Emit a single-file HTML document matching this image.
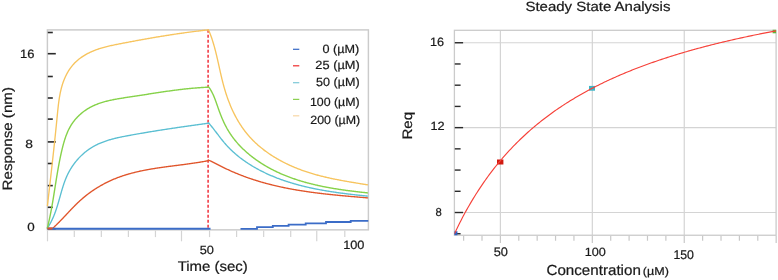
<!DOCTYPE html>
<html><head><meta charset="utf-8"><style>
html,body{margin:0;padding:0;background:#fff;width:778px;height:280px;overflow:hidden}
svg{display:block;will-change:transform;font-family:"Liberation Sans",sans-serif}
text{text-rendering:geometricPrecision}
</style></head><body>
<svg width="778" height="280" viewBox="0 0 778 280">
<rect x="47.4" y="29.9" width="321" height="199.95" fill="none" stroke="#cbcbcb" stroke-width="1.45"/>
<line x1="47.8" y1="228.70" x2="55.80" y2="228.70" stroke="#2a2a2a" stroke-width="1.6"/>
<line x1="47.8" y1="207.30" x2="52.80" y2="207.30" stroke="#2a2a2a" stroke-width="1.6"/>
<line x1="47.8" y1="185.60" x2="52.80" y2="185.60" stroke="#2a2a2a" stroke-width="1.6"/>
<line x1="47.8" y1="163.50" x2="52.80" y2="163.50" stroke="#2a2a2a" stroke-width="1.6"/>
<line x1="47.8" y1="141.90" x2="55.80" y2="141.90" stroke="#2a2a2a" stroke-width="1.6"/>
<line x1="47.8" y1="119.10" x2="52.80" y2="119.10" stroke="#2a2a2a" stroke-width="1.6"/>
<line x1="47.8" y1="98.00" x2="52.80" y2="98.00" stroke="#2a2a2a" stroke-width="1.6"/>
<line x1="47.8" y1="76.50" x2="52.80" y2="76.50" stroke="#2a2a2a" stroke-width="1.6"/>
<line x1="47.8" y1="53.70" x2="55.80" y2="53.70" stroke="#2a2a2a" stroke-width="1.6"/>
<line x1="47.8" y1="32.50" x2="52.80" y2="32.50" stroke="#2a2a2a" stroke-width="1.6"/>
<line x1="47.5" y1="230.5" x2="47.5" y2="241.3" stroke="#d4d4d4" stroke-width="1.2"/>
<line x1="74.30" y1="230.5" x2="74.30" y2="237.1" stroke="#d4d4d4" stroke-width="1.2"/>
<line x1="101.35" y1="230.5" x2="101.35" y2="237.1" stroke="#d4d4d4" stroke-width="1.2"/>
<line x1="128.40" y1="230.5" x2="128.40" y2="237.1" stroke="#d4d4d4" stroke-width="1.2"/>
<line x1="155.45" y1="230.5" x2="155.45" y2="237.1" stroke="#d4d4d4" stroke-width="1.2"/>
<line x1="181.50" y1="230.5" x2="181.50" y2="241.3" stroke="#d4d4d4" stroke-width="1.2"/>
<line x1="209.55" y1="230.5" x2="209.55" y2="237.1" stroke="#d4d4d4" stroke-width="1.2"/>
<line x1="236.60" y1="230.5" x2="236.60" y2="237.1" stroke="#d4d4d4" stroke-width="1.2"/>
<line x1="263.65" y1="230.5" x2="263.65" y2="237.1" stroke="#d4d4d4" stroke-width="1.2"/>
<line x1="290.70" y1="230.5" x2="290.70" y2="237.1" stroke="#d4d4d4" stroke-width="1.2"/>
<line x1="316.75" y1="230.5" x2="316.75" y2="241.3" stroke="#d4d4d4" stroke-width="1.2"/>
<line x1="344.80" y1="230.5" x2="344.80" y2="237.1" stroke="#d4d4d4" stroke-width="1.2"/>
<line x1="208.1" y1="29.6" x2="208.1" y2="229.5" stroke="#f0303a" stroke-width="1.5" stroke-dasharray="3 2" stroke-dashoffset="-0.2"/>
<path d="M47.50,228.40 L52.48,228.44 L52.92,228.05 L53.35,227.66 L53.78,227.27 L54.21,226.88 L54.63,226.48 L55.06,226.08 L55.48,225.68 L55.91,225.28 L56.33,224.87 L56.75,224.46 L57.16,224.05 L57.58,223.64 L58.00,223.23 L58.41,222.82 L58.83,222.40 L59.24,221.98 L59.65,221.57 L60.06,221.15 L60.47,220.73 L60.88,220.30 L61.29,219.88 L61.70,219.46 L62.11,219.03 L62.51,218.60 L62.92,218.18 L63.33,217.75 L63.73,217.32 L64.14,216.89 L64.54,216.46 L64.95,216.03 L65.35,215.60 L65.76,215.17 L66.16,214.74 L66.57,214.31 L66.97,213.88 L67.37,213.45 L67.78,213.02 L68.18,212.58 L68.59,212.15 L69.00,211.72 L69.40,211.29 L69.81,210.86 L70.22,210.43 L70.62,210.00 L71.03,209.58 L71.44,209.15 L71.85,208.72 L72.26,208.30 L72.67,207.87 L73.08,207.45 L73.50,207.02 L73.91,206.60 L74.32,206.18 L74.74,205.76 L75.16,205.34 L75.58,204.93 L76.00,204.51 L76.42,204.10 L76.84,203.68 L77.26,203.27 L77.69,202.86 L78.11,202.46 L78.54,202.05 L78.97,201.65 L79.40,201.25 L79.84,200.85 L80.27,200.45 L80.71,200.06 L81.15,199.67 L81.59,199.28 L82.03,198.89 L82.48,198.50 L82.92,198.12 L83.37,197.74 L83.82,197.36 L84.28,196.99 L84.73,196.62 L85.19,196.25 L85.64,195.88 L86.10,195.51 L86.56,195.15 L87.03,194.79 L87.49,194.43 L87.96,194.07 L88.43,193.72 L88.90,193.37 L89.37,193.02 L89.84,192.67 L90.32,192.33 L90.79,191.99 L91.27,191.65 L91.75,191.31 L92.24,190.98 L92.72,190.65 L93.20,190.32 L93.69,189.99 L94.18,189.67 L94.67,189.35 L95.16,189.03 L95.65,188.71 L96.15,188.40 L96.64,188.09 L97.14,187.78 L97.64,187.47 L98.14,187.17 L98.64,186.86 L99.15,186.57 L99.65,186.27 L100.16,185.97 L100.67,185.68 L101.18,185.39 L101.69,185.11 L102.20,184.82 L102.71,184.54 L103.23,184.26 L103.74,183.99 L104.26,183.71 L104.78,183.44 L105.30,183.17 L105.82,182.90 L106.34,182.64 L106.87,182.38 L107.39,182.12 L107.92,181.86 L108.44,181.61 L108.97,181.36 L109.50,181.11 L110.03,180.86 L110.57,180.62 L111.10,180.38 L111.63,180.14 L112.17,179.91 L112.71,179.67 L113.24,179.44 L113.78,179.22 L114.32,178.99 L114.86,178.77 L115.41,178.55 L115.95,178.33 L116.49,178.11 L117.04,177.90 L117.59,177.69 L118.13,177.49 L118.68,177.28 L119.23,177.08 L119.78,176.88 L120.33,176.68 L120.88,176.49 L121.44,176.30 L121.99,176.11 L122.54,175.92 L123.10,175.73 L123.66,175.55 L124.21,175.37 L124.77,175.19 L125.33,175.02 L125.89,174.84 L126.45,174.67 L127.01,174.50 L127.57,174.34 L128.14,174.17 L128.70,174.01 L129.27,173.85 L129.83,173.69 L130.40,173.53 L130.96,173.38 L131.53,173.22 L132.10,173.07 L132.67,172.93 L133.24,172.78 L133.81,172.63 L134.38,172.49 L134.95,172.35 L135.52,172.21 L136.09,172.07 L136.67,171.94 L137.24,171.80 L137.82,171.67 L138.39,171.54 L138.97,171.41 L139.54,171.28 L140.12,171.16 L140.70,171.03 L141.27,170.91 L141.85,170.79 L142.43,170.67 L143.01,170.55 L143.59,170.43 L144.17,170.32 L144.75,170.21 L145.33,170.09 L145.91,169.98 L146.50,169.87 L147.08,169.76 L147.66,169.66 L148.24,169.55 L148.83,169.45 L149.41,169.34 L149.99,169.24 L150.58,169.14 L151.16,169.04 L151.75,168.94 L152.33,168.84 L152.92,168.75 L153.51,168.65 L154.09,168.56 L154.68,168.46 L155.26,168.37 L155.85,168.28 L156.44,168.19 L157.03,168.10 L157.61,168.01 L158.20,167.92 L158.79,167.83 L159.38,167.75 L159.97,167.66 L160.55,167.57 L161.14,167.49 L161.73,167.41 L162.32,167.32 L162.91,167.24 L163.50,167.16 L164.08,167.08 L164.67,167.00 L165.26,166.92 L165.85,166.84 L166.44,166.76 L167.03,166.68 L167.62,166.60 L168.21,166.52 L168.80,166.44 L169.39,166.37 L169.97,166.29 L170.56,166.21 L171.15,166.14 L171.74,166.06 L172.33,165.99 L172.92,165.91 L173.51,165.83 L174.09,165.76 L174.68,165.68 L175.27,165.61 L175.86,165.53 L176.44,165.46 L177.03,165.38 L177.62,165.31 L178.21,165.23 L178.79,165.16 L179.38,165.08 L179.96,165.01 L180.55,164.93 L181.14,164.86 L181.72,164.78 L182.31,164.71 L182.89,164.63 L183.48,164.56 L184.06,164.48 L184.64,164.40 L185.23,164.33 L185.81,164.25 L186.39,164.17 L186.98,164.09 L187.56,164.01 L188.14,163.93 L188.72,163.85 L189.30,163.77 L189.88,163.69 L190.46,163.61 L191.04,163.53 L191.62,163.45 L192.20,163.37 L192.78,163.28 L193.35,163.20 L193.93,163.11 L194.51,163.03 L195.08,162.94 L195.66,162.85 L196.23,162.77 L196.81,162.68 L197.38,162.59 L197.95,162.50 L198.52,162.41 L199.10,162.31 L199.67,162.22 L200.24,162.13 L200.81,162.03 L201.37,161.94 L201.94,161.84 L202.51,161.74 L203.08,161.64 L203.64,161.54 L204.21,161.44 L204.77,161.34 L205.34,161.23 L205.90,161.13 L206.46,161.02 L207.02,160.91 L207.59,160.80 L208.15,160.69 L208.38,160.05 L208.88,160.28 L209.38,160.51 L209.87,160.74 L210.37,160.98 L210.86,161.21 L211.36,161.45 L211.85,161.69 L212.34,161.93 L212.84,162.17 L213.33,162.41 L213.82,162.66 L214.31,162.90 L214.81,163.15 L215.30,163.39 L215.79,163.64 L216.28,163.89 L216.77,164.14 L217.26,164.39 L217.75,164.64 L218.24,164.88 L218.74,165.13 L219.23,165.38 L219.72,165.63 L220.21,165.88 L220.70,166.12 L221.20,166.37 L221.69,166.62 L222.18,166.86 L222.68,167.11 L223.17,167.35 L223.67,167.60 L224.16,167.84 L224.66,168.08 L225.15,168.32 L225.65,168.56 L226.15,168.79 L226.65,169.03 L227.15,169.26 L227.65,169.50 L228.15,169.73 L228.65,169.96 L229.15,170.19 L229.65,170.42 L230.15,170.65 L230.66,170.87 L231.16,171.10 L231.67,171.32 L232.17,171.54 L232.68,171.77 L233.18,171.99 L233.69,172.20 L234.20,172.42 L234.71,172.64 L235.21,172.85 L235.72,173.07 L236.23,173.28 L236.74,173.49 L237.25,173.70 L237.77,173.91 L238.28,174.12 L238.79,174.32 L239.30,174.53 L239.82,174.73 L240.33,174.94 L240.85,175.14 L241.36,175.34 L241.88,175.54 L242.39,175.73 L242.91,175.93 L243.43,176.12 L243.95,176.32 L244.46,176.51 L244.98,176.70 L245.50,176.89 L246.02,177.08 L246.54,177.27 L247.06,177.46 L247.59,177.64 L248.11,177.82 L248.63,178.01 L249.15,178.19 L249.68,178.37 L250.20,178.55 L250.73,178.73 L251.25,178.90 L251.78,179.08 L252.30,179.25 L252.83,179.43 L253.36,179.60 L253.88,179.77 L254.41,179.94 L254.94,180.11 L255.47,180.27 L256.00,180.44 L256.53,180.61 L257.05,180.77 L257.58,180.93 L258.12,181.09 L258.65,181.25 L259.18,181.41 L259.71,181.57 L260.24,181.73 L260.77,181.89 L261.31,182.04 L261.84,182.19 L262.37,182.35 L262.91,182.50 L263.44,182.65 L263.97,182.80 L264.51,182.95 L265.04,183.09 L265.58,183.24 L266.12,183.39 L266.65,183.53 L267.19,183.67 L267.72,183.82 L268.26,183.96 L268.80,184.10 L269.34,184.24 L269.87,184.37 L270.41,184.51 L270.95,184.65 L271.49,184.78 L272.03,184.91 L272.57,185.05 L273.10,185.18 L273.64,185.31 L274.18,185.44 L274.72,185.57 L275.26,185.70 L275.80,185.82 L276.34,185.95 L276.89,186.07 L277.43,186.20 L277.97,186.32 L278.51,186.44 L279.05,186.56 L279.59,186.68 L280.13,186.80 L280.67,186.92 L281.22,187.04 L281.76,187.15 L282.30,187.27 L282.84,187.38 L283.39,187.50 L283.93,187.61 L284.47,187.72 L285.02,187.83 L285.56,187.94 L286.10,188.05 L286.65,188.16 L287.19,188.27 L287.73,188.37 L288.28,188.48 L288.82,188.59 L289.37,188.69 L289.91,188.79 L290.45,188.89 L291.00,189.00 L291.54,189.10 L292.09,189.20 L292.63,189.30 L293.18,189.39 L293.72,189.49 L294.27,189.59 L294.81,189.68 L295.36,189.78 L295.90,189.87 L296.45,189.97 L297.00,190.06 L297.54,190.15 L298.09,190.24 L298.63,190.33 L299.18,190.42 L299.73,190.51 L300.27,190.60 L300.82,190.69 L301.37,190.77 L301.91,190.86 L302.46,190.95 L303.01,191.03 L303.56,191.11 L304.10,191.20 L304.65,191.28 L305.20,191.36 L305.75,191.44 L306.29,191.52 L306.84,191.60 L307.39,191.68 L307.94,191.76 L308.48,191.84 L309.03,191.92 L309.58,192.00 L310.13,192.07 L310.68,192.15 L311.23,192.22 L311.78,192.30 L312.32,192.37 L312.87,192.44 L313.42,192.52 L313.97,192.59 L314.52,192.66 L315.07,192.73 L315.62,192.80 L316.17,192.87 L316.72,192.94 L317.27,193.01 L317.82,193.08 L318.36,193.15 L318.91,193.21 L319.46,193.28 L320.01,193.35 L320.56,193.41 L321.11,193.48 L321.66,193.54 L322.21,193.61 L322.76,193.67 L323.31,193.74 L323.86,193.80 L324.41,193.86 L324.97,193.92 L325.52,193.99 L326.07,194.05 L326.62,194.11 L327.17,194.17 L327.72,194.23 L328.27,194.29 L328.82,194.35 L329.37,194.41 L329.92,194.46 L330.47,194.52 L331.02,194.58 L331.57,194.64 L332.13,194.69 L332.68,194.75 L333.23,194.81 L333.78,194.86 L334.33,194.92 L334.88,194.97 L335.43,195.03 L335.99,195.08 L336.54,195.14 L337.09,195.19 L337.64,195.25 L338.19,195.30 L338.74,195.35 L339.30,195.41 L339.85,195.46 L340.40,195.51 L340.95,195.56 L341.50,195.61 L342.05,195.67 L342.61,195.72 L343.16,195.77 L343.71,195.82 L344.26,195.87 L344.81,195.92 L345.37,195.97 L345.92,196.02 L346.47,196.07 L347.02,196.12 L347.57,196.17 L348.13,196.22 L348.68,196.27 L349.23,196.31 L349.78,196.36 L350.34,196.41 L350.89,196.46 L351.44,196.51 L351.99,196.56 L352.54,196.60 L353.10,196.65 L353.65,196.70 L354.20,196.75 L354.75,196.79 L355.31,196.84 L355.86,196.89 L356.41,196.94 L356.96,196.98 L357.52,197.03 L358.07,197.08 L358.62,197.12 L359.17,197.17 L359.72,197.22 L360.28,197.26 L360.83,197.31 L361.38,197.36 L361.93,197.40 L362.49,197.45 L363.04,197.50 L363.59,197.54 L364.14,197.59 L364.70,197.64 L365.25,197.68 L365.80,197.73 L366.35,197.78 L366.91,197.82 L367.46,197.87 L368.01,197.92" fill="none" stroke="#e0552b" stroke-width="1.35" stroke-linejoin="round"/>
<path d="M47.13,228.48 L47.53,227.88 L47.92,227.27 L48.31,226.66 L48.69,226.05 L49.06,225.44 L49.42,224.82 L49.78,224.21 L50.13,223.58 L50.47,222.96 L50.80,222.33 L51.13,221.70 L51.45,221.06 L51.77,220.42 L52.08,219.78 L52.38,219.14 L52.68,218.49 L52.97,217.85 L53.25,217.20 L53.53,216.54 L53.80,215.89 L54.07,215.23 L54.34,214.57 L54.60,213.90 L54.85,213.24 L55.10,212.57 L55.35,211.90 L55.59,211.23 L55.83,210.56 L56.06,209.88 L56.29,209.20 L56.51,208.52 L56.74,207.84 L56.96,207.16 L57.17,206.48 L57.39,205.79 L57.60,205.10 L57.81,204.41 L58.01,203.72 L58.22,203.03 L58.42,202.34 L58.62,201.64 L58.82,200.95 L59.02,200.25 L59.21,199.55 L59.41,198.86 L59.61,198.16 L59.80,197.46 L60.00,196.76 L60.19,196.06 L60.39,195.36 L60.58,194.67 L60.78,193.97 L60.97,193.27 L61.17,192.57 L61.37,191.87 L61.57,191.18 L61.78,190.48 L61.98,189.79 L62.19,189.09 L62.40,188.40 L62.61,187.71 L62.83,187.02 L63.04,186.33 L63.26,185.64 L63.49,184.95 L63.72,184.27 L63.95,183.59 L64.19,182.90 L64.43,182.23 L64.67,181.55 L64.92,180.88 L65.18,180.20 L65.44,179.54 L65.70,178.87 L65.98,178.20 L66.25,177.54 L66.54,176.89 L66.82,176.23 L67.12,175.58 L67.42,174.93 L67.73,174.29 L68.05,173.64 L68.37,173.01 L68.70,172.37 L69.04,171.74 L69.38,171.11 L69.73,170.49 L70.09,169.87 L70.45,169.26 L70.82,168.65 L71.20,168.04 L71.58,167.44 L71.97,166.84 L72.36,166.24 L72.77,165.65 L73.17,165.07 L73.59,164.49 L74.01,163.91 L74.43,163.34 L74.87,162.77 L75.30,162.21 L75.75,161.66 L76.20,161.10 L76.65,160.56 L77.11,160.02 L77.58,159.48 L78.05,158.95 L78.53,158.42 L79.02,157.90 L79.50,157.39 L80.00,156.88 L80.50,156.37 L81.01,155.87 L81.52,155.38 L82.03,154.90 L82.55,154.42 L83.08,153.94 L83.61,153.47 L84.15,153.01 L84.69,152.55 L85.24,152.10 L85.79,151.66 L86.35,151.22 L86.91,150.79 L87.48,150.37 L88.05,149.95 L88.62,149.54 L89.20,149.13 L89.79,148.74 L90.38,148.34 L90.97,147.96 L91.57,147.58 L92.18,147.21 L92.78,146.85 L93.39,146.50 L94.01,146.15 L94.63,145.81 L95.26,145.48 L95.88,145.15 L96.52,144.83 L97.15,144.52 L97.79,144.21 L98.44,143.92 L99.08,143.63 L99.74,143.34 L100.39,143.06 L101.05,142.79 L101.71,142.52 L102.37,142.26 L103.04,142.01 L103.71,141.76 L104.38,141.52 L105.06,141.28 L105.74,141.05 L106.42,140.82 L107.10,140.60 L107.79,140.38 L108.48,140.17 L109.17,139.96 L109.86,139.76 L110.55,139.56 L111.25,139.36 L111.95,139.17 L112.65,138.98 L113.35,138.80 L114.05,138.62 L114.76,138.45 L115.47,138.27 L116.17,138.10 L116.88,137.94 L117.59,137.78 L118.30,137.62 L119.02,137.46 L119.73,137.31 L120.44,137.15 L121.16,137.00 L121.87,136.86 L122.59,136.71 L123.30,136.57 L124.02,136.43 L124.73,136.29 L125.45,136.15 L126.17,136.01 L126.88,135.88 L127.60,135.74 L128.31,135.61 L129.03,135.48 L129.74,135.35 L130.46,135.22 L131.17,135.09 L131.89,134.96 L132.60,134.83 L133.31,134.70 L134.02,134.57 L134.73,134.45 L135.44,134.32 L136.15,134.19 L136.86,134.07 L137.57,133.94 L138.28,133.82 L138.99,133.70 L139.70,133.57 L140.40,133.45 L141.11,133.33 L141.82,133.21 L142.52,133.09 L143.23,132.97 L143.94,132.85 L144.64,132.73 L145.35,132.61 L146.05,132.49 L146.76,132.37 L147.46,132.25 L148.16,132.13 L148.87,132.02 L149.57,131.90 L150.27,131.79 L150.98,131.67 L151.68,131.55 L152.38,131.44 L153.08,131.33 L153.78,131.21 L154.49,131.10 L155.19,130.99 L155.89,130.87 L156.59,130.76 L157.29,130.65 L157.99,130.54 L158.70,130.43 L159.40,130.31 L160.10,130.20 L160.80,130.09 L161.50,129.98 L162.20,129.87 L162.90,129.77 L163.60,129.66 L164.30,129.55 L165.00,129.44 L165.71,129.33 L166.41,129.23 L167.11,129.12 L167.81,129.01 L168.51,128.90 L169.21,128.80 L169.91,128.69 L170.61,128.59 L171.32,128.48 L172.02,128.38 L172.72,128.27 L173.42,128.17 L174.13,128.06 L174.83,127.96 L175.53,127.85 L176.24,127.75 L176.94,127.64 L177.64,127.54 L178.35,127.44 L179.05,127.34 L179.76,127.23 L180.46,127.13 L181.17,127.03 L181.87,126.92 L182.58,126.82 L183.28,126.72 L183.99,126.62 L184.70,126.52 L185.41,126.42 L186.11,126.31 L186.82,126.21 L187.53,126.11 L188.24,126.01 L188.95,125.91 L189.66,125.81 L190.37,125.71 L191.08,125.61 L191.79,125.51 L192.51,125.41 L193.22,125.31 L193.93,125.21 L194.65,125.11 L195.36,125.01 L196.07,124.91 L196.79,124.81 L197.51,124.71 L198.22,124.61 L198.94,124.51 L199.66,124.41 L200.38,124.31 L201.10,124.21 L201.82,124.11 L202.54,124.01 L203.26,123.91 L203.98,123.81 L204.71,123.71 L205.43,123.61 L206.15,123.51 L206.88,123.41 L207.61,123.31 L208.33,123.21 L208.54,122.82 L208.94,123.27 L209.33,123.73 L209.72,124.19 L210.11,124.65 L210.49,125.11 L210.88,125.57 L211.26,126.04 L211.64,126.51 L212.02,126.98 L212.40,127.46 L212.77,127.93 L213.15,128.41 L213.52,128.89 L213.89,129.37 L214.27,129.85 L214.64,130.33 L215.01,130.81 L215.38,131.30 L215.75,131.78 L216.12,132.27 L216.49,132.75 L216.86,133.24 L217.23,133.72 L217.60,134.21 L217.97,134.70 L218.34,135.18 L218.71,135.67 L219.08,136.16 L219.46,136.64 L219.83,137.13 L220.20,137.61 L220.58,138.09 L220.96,138.58 L221.34,139.06 L221.72,139.54 L222.10,140.01 L222.48,140.49 L222.87,140.97 L223.26,141.44 L223.65,141.91 L224.04,142.38 L224.43,142.85 L224.83,143.31 L225.23,143.78 L225.63,144.23 L226.04,144.69 L226.45,145.15 L226.86,145.60 L227.27,146.05 L227.69,146.49 L228.11,146.94 L228.53,147.38 L228.96,147.82 L229.38,148.25 L229.81,148.68 L230.25,149.12 L230.68,149.54 L231.12,149.97 L231.56,150.39 L232.00,150.81 L232.45,151.23 L232.90,151.64 L233.35,152.05 L233.80,152.46 L234.26,152.87 L234.71,153.27 L235.17,153.67 L235.64,154.07 L236.10,154.47 L236.57,154.86 L237.04,155.25 L237.51,155.64 L237.98,156.02 L238.46,156.41 L238.94,156.79 L239.41,157.17 L239.90,157.54 L240.38,157.92 L240.87,158.29 L241.35,158.65 L241.84,159.02 L242.33,159.38 L242.83,159.74 L243.32,160.10 L243.82,160.46 L244.32,160.81 L244.82,161.16 L245.32,161.51 L245.82,161.85 L246.33,162.20 L246.83,162.54 L247.34,162.88 L247.85,163.21 L248.36,163.55 L248.88,163.88 L249.39,164.21 L249.91,164.54 L250.42,164.86 L250.94,165.18 L251.46,165.50 L251.98,165.82 L252.51,166.13 L253.03,166.45 L253.55,166.76 L254.08,167.06 L254.61,167.37 L255.14,167.67 L255.67,167.97 L256.20,168.27 L256.73,168.57 L257.26,168.86 L257.80,169.16 L258.33,169.45 L258.87,169.73 L259.40,170.02 L259.94,170.30 L260.48,170.58 L261.02,170.86 L261.56,171.14 L262.11,171.41 L262.65,171.68 L263.20,171.95 L263.74,172.22 L264.29,172.49 L264.84,172.75 L265.38,173.01 L265.93,173.27 L266.48,173.53 L267.04,173.79 L267.59,174.04 L268.14,174.29 L268.70,174.54 L269.25,174.79 L269.81,175.03 L270.37,175.28 L270.92,175.52 L271.48,175.76 L272.04,175.99 L272.60,176.23 L273.17,176.46 L273.73,176.70 L274.29,176.93 L274.86,177.15 L275.42,177.38 L275.99,177.60 L276.55,177.82 L277.12,178.05 L277.69,178.26 L278.26,178.48 L278.83,178.69 L279.40,178.91 L279.97,179.12 L280.54,179.33 L281.12,179.54 L281.69,179.74 L282.26,179.94 L282.84,180.15 L283.41,180.35 L283.99,180.55 L284.57,180.74 L285.15,180.94 L285.73,181.13 L286.31,181.32 L286.89,181.51 L287.47,181.70 L288.05,181.89 L288.63,182.07 L289.21,182.26 L289.80,182.44 L290.38,182.62 L290.96,182.80 L291.55,182.97 L292.13,183.15 L292.72,183.32 L293.31,183.50 L293.90,183.67 L294.48,183.83 L295.07,184.00 L295.66,184.17 L296.25,184.33 L296.84,184.50 L297.43,184.66 L298.02,184.82 L298.62,184.98 L299.21,185.13 L299.80,185.29 L300.39,185.44 L300.99,185.60 L301.58,185.75 L302.18,185.90 L302.77,186.05 L303.37,186.19 L303.96,186.34 L304.56,186.48 L305.16,186.63 L305.75,186.77 L306.35,186.91 L306.95,187.05 L307.55,187.18 L308.14,187.32 L308.74,187.46 L309.34,187.59 L309.94,187.72 L310.54,187.85 L311.14,187.98 L311.74,188.11 L312.35,188.24 L312.95,188.37 L313.55,188.49 L314.15,188.62 L314.75,188.74 L315.35,188.86 L315.96,188.98 L316.56,189.10 L317.16,189.22 L317.77,189.34 L318.37,189.45 L318.97,189.57 L319.58,189.68 L320.18,189.79 L320.79,189.90 L321.39,190.01 L322.00,190.12 L322.60,190.23 L323.21,190.34 L323.81,190.45 L324.42,190.55 L325.02,190.66 L325.63,190.76 L326.24,190.86 L326.84,190.96 L327.45,191.06 L328.05,191.16 L328.66,191.26 L329.27,191.36 L329.87,191.45 L330.48,191.55 L331.09,191.65 L331.69,191.74 L332.30,191.83 L332.91,191.92 L333.51,192.02 L334.12,192.11 L334.73,192.20 L335.33,192.28 L335.94,192.37 L336.55,192.46 L337.15,192.55 L337.76,192.63 L338.37,192.72 L338.97,192.80 L339.58,192.88 L340.18,192.97 L340.79,193.05 L341.40,193.13 L342.00,193.21 L342.61,193.29 L343.22,193.37 L343.82,193.45 L344.43,193.53 L345.03,193.60 L345.64,193.68 L346.24,193.76 L346.85,193.83 L347.45,193.91 L348.06,193.98 L348.66,194.05 L349.27,194.13 L349.87,194.20 L350.47,194.27 L351.08,194.34 L351.68,194.41 L352.28,194.48 L352.89,194.55 L353.49,194.62 L354.09,194.69 L354.69,194.76 L355.29,194.83 L355.90,194.89 L356.50,194.96 L357.10,195.03 L357.70,195.09 L358.30,195.16 L358.90,195.22 L359.50,195.29 L360.10,195.35 L360.70,195.42 L361.29,195.48 L361.89,195.54 L362.49,195.61 L363.09,195.67 L363.69,195.73 L364.28,195.79 L364.88,195.86 L365.47,195.92 L366.07,195.98 L366.66,196.04 L367.26,196.10 L367.85,196.16" fill="none" stroke="#5bbfd2" stroke-width="1.35" stroke-linejoin="round"/>
<path d="M47.17,228.66 L47.38,227.83 L47.59,227.00 L47.80,226.17 L48.00,225.34 L48.20,224.51 L48.39,223.68 L48.58,222.85 L48.77,222.02 L48.96,221.19 L49.15,220.36 L49.33,219.53 L49.51,218.70 L49.68,217.86 L49.86,217.03 L50.03,216.20 L50.20,215.37 L50.37,214.54 L50.53,213.71 L50.70,212.88 L50.86,212.05 L51.02,211.21 L51.18,210.38 L51.33,209.55 L51.49,208.72 L51.64,207.89 L51.79,207.05 L51.94,206.22 L52.08,205.39 L52.23,204.56 L52.38,203.72 L52.52,202.89 L52.66,202.06 L52.80,201.23 L52.94,200.39 L53.08,199.56 L53.22,198.73 L53.36,197.90 L53.49,197.06 L53.63,196.23 L53.76,195.40 L53.90,194.56 L54.03,193.73 L54.16,192.90 L54.30,192.06 L54.43,191.23 L54.56,190.40 L54.69,189.56 L54.82,188.73 L54.96,187.90 L55.09,187.06 L55.22,186.23 L55.35,185.39 L55.48,184.56 L55.61,183.73 L55.75,182.89 L55.88,182.06 L56.01,181.22 L56.15,180.39 L56.28,179.55 L56.41,178.72 L56.55,177.89 L56.69,177.05 L56.82,176.22 L56.96,175.38 L57.10,174.55 L57.24,173.71 L57.38,172.88 L57.52,172.04 L57.67,171.21 L57.81,170.37 L57.96,169.54 L58.10,168.70 L58.25,167.87 L58.40,167.03 L58.56,166.20 L58.71,165.36 L58.87,164.53 L59.02,163.69 L59.18,162.86 L59.34,162.02 L59.51,161.19 L59.67,160.35 L59.84,159.52 L60.01,158.68 L60.18,157.85 L60.36,157.01 L60.53,156.17 L60.71,155.34 L60.89,154.50 L61.08,153.67 L61.27,152.83 L61.46,152.00 L61.65,151.16 L61.84,150.32 L62.04,149.49 L62.24,148.65 L62.45,147.82 L62.66,146.98 L62.87,146.15 L63.09,145.32 L63.31,144.49 L63.54,143.66 L63.77,142.83 L64.01,142.00 L64.25,141.18 L64.50,140.36 L64.76,139.54 L65.02,138.73 L65.29,137.92 L65.57,137.11 L65.85,136.31 L66.15,135.51 L66.45,134.71 L66.76,133.93 L67.08,133.14 L67.41,132.36 L67.75,131.59 L68.09,130.82 L68.45,130.06 L68.82,129.30 L69.20,128.56 L69.59,127.81 L69.99,127.08 L70.40,126.35 L70.83,125.63 L71.27,124.92 L71.72,124.22 L72.18,123.52 L72.65,122.84 L73.14,122.16 L73.64,121.49 L74.15,120.83 L74.67,120.18 L75.20,119.53 L75.74,118.90 L76.30,118.28 L76.86,117.66 L77.43,117.05 L78.02,116.46 L78.61,115.87 L79.22,115.29 L79.83,114.73 L80.45,114.17 L81.08,113.62 L81.72,113.08 L82.37,112.56 L83.03,112.04 L83.69,111.53 L84.36,111.04 L85.04,110.55 L85.73,110.08 L86.43,109.61 L87.13,109.16 L87.84,108.72 L88.55,108.29 L89.27,107.87 L90.00,107.46 L90.74,107.07 L91.48,106.68 L92.22,106.31 L92.97,105.95 L93.73,105.60 L94.49,105.26 L95.26,104.93 L96.03,104.60 L96.81,104.29 L97.59,103.99 L98.38,103.70 L99.17,103.41 L99.96,103.14 L100.76,102.87 L101.56,102.61 L102.37,102.36 L103.18,102.12 L103.99,101.88 L104.81,101.65 L105.63,101.43 L106.45,101.22 L107.28,101.01 L108.11,100.81 L108.94,100.61 L109.78,100.42 L110.61,100.24 L111.45,100.06 L112.29,99.88 L113.13,99.71 L113.98,99.54 L114.83,99.38 L115.67,99.23 L116.52,99.07 L117.37,98.92 L118.22,98.77 L119.08,98.63 L119.93,98.49 L120.78,98.35 L121.64,98.21 L122.49,98.08 L123.34,97.95 L124.20,97.81 L125.05,97.68 L125.91,97.56 L126.76,97.43 L127.61,97.30 L128.47,97.17 L129.32,97.05 L130.17,96.92 L131.02,96.79 L131.87,96.66 L132.71,96.53 L133.56,96.40 L134.41,96.28 L135.25,96.15 L136.09,96.02 L136.94,95.89 L137.78,95.76 L138.62,95.62 L139.46,95.49 L140.30,95.36 L141.14,95.23 L141.97,95.10 L142.81,94.97 L143.65,94.84 L144.48,94.71 L145.32,94.58 L146.15,94.45 L146.98,94.32 L147.82,94.19 L148.65,94.06 L149.48,93.93 L150.31,93.80 L151.15,93.67 L151.98,93.54 L152.81,93.41 L153.64,93.28 L154.47,93.15 L155.30,93.02 L156.13,92.90 L156.96,92.77 L157.79,92.64 L158.61,92.52 L159.44,92.39 L160.27,92.27 L161.10,92.15 L161.93,92.02 L162.76,91.90 L163.59,91.78 L164.41,91.66 L165.24,91.54 L166.07,91.42 L166.90,91.30 L167.73,91.18 L168.56,91.07 L169.39,90.95 L170.22,90.84 L171.05,90.72 L171.88,90.61 L172.71,90.50 L173.54,90.39 L174.37,90.28 L175.21,90.17 L176.04,90.07 L176.87,89.96 L177.71,89.86 L178.54,89.75 L179.38,89.65 L180.21,89.55 L181.05,89.45 L181.88,89.35 L182.72,89.26 L183.56,89.16 L184.40,89.07 L185.24,88.98 L186.08,88.89 L186.92,88.80 L187.76,88.71 L188.61,88.63 L189.45,88.54 L190.30,88.46 L191.14,88.38 L191.99,88.30 L192.84,88.23 L193.69,88.15 L194.54,88.08 L195.39,88.01 L196.25,87.94 L197.10,87.87 L197.96,87.81 L198.81,87.74 L199.67,87.68 L200.53,87.62 L201.39,87.57 L202.25,87.51 L203.12,87.46 L203.98,87.41 L204.85,87.36 L205.72,87.32 L206.59,87.27 L207.46,87.23 L208.33,87.19 L208.54,86.80 L208.94,87.33 L209.32,87.88 L209.70,88.43 L210.06,88.99 L210.42,89.55 L210.77,90.12 L211.10,90.70 L211.43,91.29 L211.75,91.88 L212.06,92.47 L212.37,93.07 L212.66,93.68 L212.95,94.29 L213.24,94.91 L213.52,95.53 L213.79,96.15 L214.05,96.78 L214.31,97.42 L214.57,98.05 L214.82,98.69 L215.07,99.34 L215.31,99.98 L215.56,100.63 L215.79,101.28 L216.03,101.93 L216.26,102.59 L216.49,103.24 L216.72,103.90 L216.95,104.56 L217.18,105.22 L217.41,105.88 L217.64,106.54 L217.87,107.20 L218.10,107.86 L218.33,108.52 L218.56,109.18 L218.79,109.84 L219.03,110.50 L219.27,111.15 L219.51,111.81 L219.75,112.47 L220.00,113.12 L220.25,113.77 L220.50,114.42 L220.75,115.07 L221.01,115.72 L221.27,116.36 L221.53,117.01 L221.80,117.65 L222.07,118.29 L222.34,118.93 L222.62,119.57 L222.90,120.20 L223.18,120.83 L223.47,121.46 L223.76,122.09 L224.06,122.72 L224.36,123.34 L224.66,123.97 L224.97,124.59 L225.28,125.20 L225.59,125.82 L225.91,126.43 L226.24,127.04 L226.56,127.65 L226.90,128.25 L227.23,128.85 L227.58,129.45 L227.92,130.04 L228.28,130.64 L228.63,131.23 L229.00,131.81 L229.36,132.39 L229.73,132.97 L230.11,133.55 L230.49,134.13 L230.88,134.70 L231.27,135.26 L231.67,135.83 L232.07,136.39 L232.47,136.95 L232.89,137.50 L233.30,138.05 L233.72,138.60 L234.14,139.15 L234.57,139.69 L235.00,140.23 L235.44,140.76 L235.88,141.30 L236.33,141.83 L236.77,142.35 L237.23,142.88 L237.68,143.40 L238.15,143.91 L238.61,144.43 L239.08,144.94 L239.55,145.44 L240.03,145.95 L240.51,146.45 L240.99,146.95 L241.48,147.44 L241.97,147.93 L242.47,148.42 L242.97,148.91 L243.47,149.39 L243.97,149.87 L244.48,150.34 L244.99,150.81 L245.51,151.28 L246.02,151.75 L246.54,152.21 L247.07,152.67 L247.60,153.12 L248.13,153.58 L248.66,154.03 L249.19,154.47 L249.73,154.92 L250.27,155.36 L250.82,155.79 L251.36,156.23 L251.91,156.66 L252.46,157.08 L253.02,157.51 L253.58,157.93 L254.13,158.34 L254.70,158.76 L255.26,159.17 L255.83,159.57 L256.39,159.98 L256.96,160.38 L257.54,160.78 L258.11,161.17 L258.69,161.56 L259.27,161.95 L259.85,162.33 L260.43,162.71 L261.01,163.09 L261.60,163.47 L262.18,163.84 L262.77,164.21 L263.36,164.57 L263.95,164.93 L264.55,165.29 L265.14,165.65 L265.74,166.00 L266.34,166.35 L266.94,166.69 L267.54,167.03 L268.14,167.37 L268.74,167.71 L269.35,168.04 L269.96,168.37 L270.57,168.70 L271.17,169.02 L271.79,169.34 L272.40,169.66 L273.01,169.97 L273.63,170.28 L274.24,170.59 L274.86,170.90 L275.48,171.20 L276.10,171.50 L276.72,171.80 L277.35,172.09 L277.97,172.38 L278.60,172.67 L279.22,172.96 L279.85,173.24 L280.48,173.52 L281.11,173.80 L281.74,174.07 L282.38,174.34 L283.01,174.61 L283.65,174.88 L284.28,175.14 L284.92,175.40 L285.56,175.66 L286.20,175.91 L286.84,176.17 L287.48,176.42 L288.12,176.67 L288.77,176.91 L289.41,177.15 L290.06,177.39 L290.71,177.63 L291.35,177.87 L292.00,178.10 L292.65,178.33 L293.30,178.56 L293.96,178.78 L294.61,179.01 L295.26,179.23 L295.92,179.45 L296.57,179.66 L297.23,179.88 L297.89,180.09 L298.55,180.30 L299.21,180.50 L299.87,180.71 L300.53,180.91 L301.19,181.11 L301.85,181.31 L302.51,181.50 L303.18,181.70 L303.84,181.89 L304.51,182.08 L305.17,182.27 L305.84,182.45 L306.51,182.63 L307.18,182.82 L307.85,182.99 L308.52,183.17 L309.19,183.35 L309.86,183.52 L310.53,183.69 L311.20,183.86 L311.88,184.03 L312.55,184.19 L313.22,184.36 L313.90,184.52 L314.57,184.68 L315.25,184.84 L315.93,184.99 L316.60,185.15 L317.28,185.30 L317.96,185.45 L318.64,185.60 L319.32,185.75 L320.00,185.89 L320.68,186.04 L321.36,186.18 L322.04,186.32 L322.72,186.46 L323.40,186.60 L324.08,186.73 L324.76,186.87 L325.45,187.00 L326.13,187.13 L326.81,187.26 L327.50,187.39 L328.18,187.51 L328.86,187.64 L329.55,187.76 L330.23,187.89 L330.92,188.01 L331.60,188.13 L332.29,188.24 L332.98,188.36 L333.66,188.48 L334.35,188.59 L335.03,188.70 L335.72,188.81 L336.41,188.92 L337.09,189.03 L337.78,189.14 L338.47,189.25 L339.16,189.35 L339.84,189.46 L340.53,189.56 L341.22,189.66 L341.91,189.76 L342.59,189.86 L343.28,189.96 L343.97,190.06 L344.66,190.15 L345.34,190.25 L346.03,190.34 L346.72,190.44 L347.41,190.53 L348.09,190.62 L348.78,190.71 L349.47,190.80 L350.16,190.89 L350.84,190.98 L351.53,191.06 L352.22,191.15 L352.90,191.24 L353.59,191.32 L354.28,191.40 L354.96,191.49 L355.65,191.57 L356.33,191.65 L357.02,191.73 L357.70,191.81 L358.39,191.89 L359.07,191.97 L359.76,192.05 L360.44,192.12 L361.13,192.20 L361.81,192.27 L362.49,192.35 L363.18,192.42 L363.86,192.50 L364.54,192.57 L365.22,192.65 L365.90,192.72 L366.59,192.79 L367.27,192.86 L367.95,192.93" fill="none" stroke="#86d24a" stroke-width="1.4" stroke-linejoin="round"/>
<path d="M47.39,206.13 L47.50,205.15 L47.61,204.17 L47.72,203.20 L47.83,202.22 L47.94,201.25 L48.05,200.28 L48.16,199.31 L48.27,198.34 L48.38,197.37 L48.49,196.40 L48.60,195.44 L48.71,194.47 L48.83,193.51 L48.94,192.55 L49.04,191.58 L49.15,190.62 L49.26,189.66 L49.37,188.70 L49.48,187.74 L49.59,186.79 L49.70,185.83 L49.81,184.87 L49.92,183.92 L50.03,182.96 L50.14,182.01 L50.25,181.06 L50.35,180.10 L50.46,179.15 L50.57,178.20 L50.68,177.25 L50.79,176.30 L50.89,175.35 L51.00,174.40 L51.11,173.45 L51.22,172.50 L51.32,171.56 L51.43,170.61 L51.54,169.66 L51.64,168.71 L51.75,167.77 L51.85,166.82 L51.96,165.87 L52.07,164.93 L52.17,163.98 L52.28,163.04 L52.38,162.09 L52.49,161.15 L52.59,160.20 L52.70,159.26 L52.80,158.31 L52.91,157.37 L53.01,156.42 L53.12,155.48 L53.22,154.53 L53.32,153.59 L53.43,152.64 L53.53,151.70 L53.63,150.75 L53.74,149.80 L53.84,148.86 L53.94,147.91 L54.04,146.97 L54.14,146.02 L54.25,145.07 L54.35,144.12 L54.45,143.18 L54.55,142.23 L54.65,141.28 L54.75,140.33 L54.85,139.38 L54.95,138.43 L55.05,137.48 L55.15,136.53 L55.25,135.57 L55.35,134.62 L55.45,133.67 L55.55,132.71 L55.65,131.76 L55.75,130.80 L55.85,129.85 L55.94,128.89 L56.04,127.93 L56.14,126.98 L56.24,126.02 L56.33,125.06 L56.43,124.09 L56.53,123.13 L56.62,122.17 L56.72,121.20 L56.81,120.24 L56.91,119.27 L57.00,118.31 L57.10,117.34 L57.19,116.37 L57.29,115.40 L57.38,114.43 L57.48,113.45 L57.57,112.48 L57.67,111.51 L57.77,110.53 L57.87,109.56 L57.97,108.58 L58.08,107.61 L58.19,106.64 L58.30,105.67 L58.41,104.69 L58.53,103.72 L58.66,102.75 L58.78,101.79 L58.92,100.82 L59.06,99.85 L59.20,98.89 L59.35,97.93 L59.51,96.97 L59.68,96.01 L59.85,95.06 L60.03,94.11 L60.22,93.16 L60.41,92.22 L60.62,91.27 L60.83,90.34 L61.05,89.40 L61.29,88.47 L61.53,87.54 L61.78,86.62 L62.05,85.70 L62.32,84.79 L62.61,83.88 L62.91,82.97 L63.22,82.07 L63.55,81.18 L63.88,80.29 L64.24,79.40 L64.60,78.53 L64.98,77.65 L65.37,76.79 L65.77,75.93 L66.19,75.08 L66.63,74.24 L67.07,73.40 L67.54,72.58 L68.01,71.76 L68.50,70.96 L69.00,70.16 L69.52,69.37 L70.05,68.60 L70.60,67.83 L71.16,67.08 L71.74,66.34 L72.33,65.61 L72.94,64.90 L73.56,64.20 L74.19,63.51 L74.84,62.83 L75.50,62.18 L76.18,61.53 L76.88,60.90 L77.58,60.28 L78.30,59.68 L79.03,59.09 L79.78,58.51 L80.53,57.95 L81.30,57.40 L82.08,56.86 L82.87,56.34 L83.67,55.83 L84.48,55.33 L85.29,54.84 L86.12,54.37 L86.96,53.91 L87.80,53.46 L88.66,53.03 L89.52,52.60 L90.39,52.19 L91.26,51.79 L92.14,51.40 L93.03,51.02 L93.92,50.66 L94.82,50.30 L95.72,49.96 L96.63,49.63 L97.54,49.30 L98.45,48.99 L99.37,48.69 L100.30,48.40 L101.22,48.12 L102.15,47.84 L103.08,47.58 L104.02,47.32 L104.95,47.07 L105.89,46.83 L106.83,46.59 L107.78,46.36 L108.72,46.14 L109.67,45.92 L110.62,45.70 L111.57,45.50 L112.52,45.29 L113.47,45.09 L114.42,44.89 L115.37,44.70 L116.33,44.51 L117.28,44.32 L118.23,44.13 L119.18,43.94 L120.14,43.76 L121.09,43.57 L122.04,43.39 L122.99,43.21 L123.94,43.02 L124.89,42.84 L125.84,42.66 L126.78,42.48 L127.73,42.30 L128.68,42.12 L129.62,41.94 L130.57,41.76 L131.52,41.58 L132.46,41.41 L133.41,41.23 L134.35,41.05 L135.29,40.88 L136.24,40.70 L137.18,40.53 L138.12,40.36 L139.07,40.18 L140.01,40.01 L140.95,39.84 L141.89,39.67 L142.83,39.50 L143.77,39.33 L144.72,39.16 L145.66,38.99 L146.60,38.83 L147.54,38.66 L148.48,38.50 L149.42,38.33 L150.36,38.17 L151.30,38.00 L152.24,37.84 L153.18,37.68 L154.12,37.52 L155.06,37.36 L156.00,37.20 L156.94,37.04 L157.88,36.88 L158.82,36.73 L159.76,36.57 L160.70,36.42 L161.64,36.26 L162.58,36.11 L163.52,35.96 L164.46,35.80 L165.40,35.65 L166.35,35.50 L167.29,35.35 L168.23,35.21 L169.17,35.06 L170.11,34.91 L171.06,34.77 L172.00,34.62 L172.94,34.48 L173.89,34.34 L174.83,34.19 L175.78,34.05 L176.72,33.91 L177.67,33.77 L178.61,33.63 L179.56,33.50 L180.51,33.36 L181.45,33.23 L182.40,33.09 L183.35,32.96 L184.30,32.83 L185.25,32.69 L186.20,32.56 L187.15,32.43 L188.10,32.31 L189.05,32.18 L190.01,32.05 L190.96,31.93 L191.92,31.80 L192.87,31.68 L193.83,31.56 L194.78,31.44 L195.74,31.32 L196.70,31.20 L197.66,31.08 L198.62,30.96 L199.58,30.85 L200.54,30.73 L201.50,30.62 L202.46,30.50 L203.43,30.39 L204.39,30.28 L205.36,30.17 L206.33,30.07 L207.29,29.96 L208.26,29.85 L208.45,29.69 L208.77,30.44 L209.09,31.19 L209.40,31.95 L209.70,32.70 L210.00,33.46 L210.29,34.22 L210.58,34.99 L210.86,35.75 L211.14,36.52 L211.41,37.29 L211.68,38.06 L211.94,38.83 L212.19,39.61 L212.45,40.38 L212.69,41.16 L212.94,41.94 L213.18,42.72 L213.41,43.51 L213.65,44.29 L213.87,45.08 L214.10,45.86 L214.32,46.65 L214.54,47.44 L214.75,48.23 L214.96,49.02 L215.17,49.82 L215.38,50.61 L215.58,51.41 L215.78,52.20 L215.98,53.00 L216.18,53.80 L216.37,54.60 L216.56,55.40 L216.75,56.20 L216.94,57.01 L217.13,57.81 L217.32,58.61 L217.50,59.42 L217.68,60.22 L217.87,61.03 L218.05,61.83 L218.23,62.64 L218.41,63.45 L218.59,64.25 L218.77,65.06 L218.95,65.87 L219.13,66.68 L219.31,67.49 L219.49,68.29 L219.66,69.10 L219.85,69.91 L220.03,70.72 L220.21,71.53 L220.39,72.34 L220.57,73.15 L220.76,73.96 L220.94,74.76 L221.13,75.57 L221.32,76.38 L221.51,77.19 L221.70,77.99 L221.90,78.80 L222.10,79.61 L222.30,80.41 L222.50,81.22 L222.70,82.02 L222.91,82.83 L223.12,83.63 L223.33,84.43 L223.54,85.23 L223.76,86.04 L223.98,86.84 L224.21,87.64 L224.44,88.43 L224.67,89.23 L224.91,90.03 L225.15,90.82 L225.39,91.62 L225.64,92.41 L225.89,93.20 L226.14,93.99 L226.40,94.78 L226.67,95.57 L226.93,96.35 L227.21,97.14 L227.48,97.92 L227.76,98.70 L228.04,99.48 L228.33,100.26 L228.62,101.04 L228.92,101.81 L229.22,102.58 L229.52,103.35 L229.83,104.12 L230.14,104.89 L230.46,105.65 L230.78,106.41 L231.10,107.17 L231.43,107.93 L231.77,108.68 L232.11,109.43 L232.45,110.18 L232.80,110.93 L233.15,111.67 L233.51,112.42 L233.87,113.15 L234.23,113.89 L234.61,114.62 L234.98,115.35 L235.36,116.08 L235.75,116.81 L236.14,117.53 L236.53,118.25 L236.93,118.96 L237.33,119.67 L237.74,120.38 L238.16,121.09 L238.58,121.79 L239.00,122.49 L239.43,123.18 L239.86,123.87 L240.30,124.56 L240.75,125.24 L241.20,125.92 L241.65,126.60 L242.11,127.27 L242.57,127.94 L243.04,128.60 L243.52,129.26 L244.00,129.92 L244.49,130.57 L244.98,131.22 L245.48,131.87 L245.98,132.50 L246.49,133.14 L247.00,133.77 L247.52,134.40 L248.04,135.02 L248.57,135.64 L249.11,136.25 L249.65,136.86 L250.19,137.46 L250.75,138.06 L251.30,138.65 L251.86,139.24 L252.43,139.83 L253.00,140.41 L253.58,140.99 L254.16,141.56 L254.75,142.12 L255.34,142.69 L255.94,143.25 L256.54,143.80 L257.15,144.35 L257.76,144.89 L258.37,145.43 L258.99,145.97 L259.62,146.50 L260.25,147.03 L260.88,147.55 L261.51,148.07 L262.16,148.58 L262.80,149.09 L263.45,149.60 L264.10,150.10 L264.76,150.60 L265.42,151.09 L266.09,151.58 L266.76,152.06 L267.43,152.54 L268.11,153.01 L268.79,153.49 L269.47,153.95 L270.16,154.41 L270.85,154.87 L271.54,155.32 L272.24,155.77 L272.94,156.22 L273.64,156.66 L274.35,157.10 L275.06,157.53 L275.77,157.95 L276.48,158.38 L277.20,158.80 L277.92,159.21 L278.65,159.62 L279.37,160.03 L280.10,160.43 L280.83,160.83 L281.57,161.22 L282.31,161.61 L283.04,162.00 L283.79,162.38 L284.53,162.76 L285.28,163.13 L286.02,163.50 L286.77,163.87 L287.53,164.23 L288.28,164.58 L289.04,164.94 L289.80,165.29 L290.56,165.63 L291.32,165.97 L292.08,166.31 L292.85,166.64 L293.61,166.97 L294.38,167.29 L295.15,167.61 L295.92,167.93 L296.69,168.24 L297.47,168.55 L298.24,168.85 L299.02,169.15 L299.80,169.45 L300.57,169.74 L301.35,170.03 L302.13,170.31 L302.91,170.59 L303.70,170.87 L304.48,171.14 L305.26,171.41 L306.05,171.67 L306.83,171.93 L307.62,172.19 L308.40,172.44 L309.19,172.69 L309.98,172.94 L310.77,173.18 L311.56,173.42 L312.35,173.66 L313.14,173.89 L313.93,174.12 L314.72,174.35 L315.52,174.57 L316.31,174.79 L317.10,175.01 L317.90,175.23 L318.69,175.44 L319.49,175.65 L320.29,175.85 L321.08,176.06 L321.88,176.26 L322.68,176.45 L323.48,176.65 L324.28,176.84 L325.08,177.03 L325.88,177.22 L326.68,177.40 L327.48,177.59 L328.29,177.77 L329.09,177.95 L329.89,178.12 L330.69,178.30 L331.50,178.47 L332.30,178.64 L333.11,178.81 L333.91,178.97 L334.72,179.14 L335.52,179.30 L336.33,179.46 L337.14,179.62 L337.94,179.77 L338.75,179.93 L339.56,180.08 L340.37,180.24 L341.17,180.39 L341.98,180.54 L342.79,180.69 L343.60,180.83 L344.41,180.98 L345.22,181.12 L346.03,181.27 L346.84,181.41 L347.65,181.55 L348.46,181.69 L349.27,181.83 L350.08,181.97 L350.89,182.10 L351.70,182.24 L352.51,182.38 L353.32,182.51 L354.13,182.65 L354.94,182.78 L355.75,182.92 L356.56,183.05 L357.38,183.18 L358.19,183.31 L359.00,183.45 L359.81,183.58 L360.62,183.71 L361.43,183.84 L362.24,183.97 L363.05,184.10 L363.86,184.23 L364.68,184.37 L365.49,184.50 L366.30,184.63 L367.11,184.76 L367.92,184.89" fill="none" stroke="#f7c45e" stroke-width="1.35" stroke-linejoin="round"/>
<line x1="47.5" y1="228.8" x2="210.5" y2="228.8" stroke="#3b6cc7" stroke-width="2"/>
<path d="M240.5,228.9 L257,228.9 L257,227.2 L272.8,227.2 L272.8,225.9 L288.6,225.9 L288.6,224.7 L305.7,224.7 L305.7,223.4 L326,223.4 L326,222 L350.7,222 L350.7,220.8 L368.3,220.8" fill="none" stroke="#3b6cc7" stroke-width="1.8"/>
<line x1="47.5" y1="228.6" x2="52.5" y2="228.4" stroke="#e0552b" stroke-width="2"/>
<text x="19.95" y="57.55" font-size="12.1" textLength="14.42" lengthAdjust="spacingAndGlyphs" fill="#1a1a1a" stroke="#1a1a1a" stroke-width="0.22">16</text>
<text x="25.20" y="147.60" font-size="11.9" textLength="7.70" lengthAdjust="spacingAndGlyphs" fill="#1a1a1a" stroke="#1a1a1a" stroke-width="0.22">8</text>
<text x="27.38" y="230.80" font-size="11.9" textLength="7.45" lengthAdjust="spacingAndGlyphs" fill="#1a1a1a" stroke="#1a1a1a" stroke-width="0.22">0</text>
<text x="199.69" y="253.60" font-size="12.0" textLength="14.21" lengthAdjust="spacingAndGlyphs" fill="#1a1a1a" stroke="#1a1a1a" stroke-width="0.22">50</text>
<text x="343.17" y="249.10" font-size="12.1" textLength="21.33" lengthAdjust="spacingAndGlyphs" fill="#1a1a1a" stroke="#1a1a1a" stroke-width="0.22">100</text>
<text x="177.67" y="271.40" font-size="13.9" textLength="70.05" lengthAdjust="spacingAndGlyphs" fill="#1a1a1a" stroke="#1a1a1a" stroke-width="0.22">Time (sec)</text>
<text transform="translate(11.60,190.44) rotate(-90)" font-size="13.5" textLength="103.38" lengthAdjust="spacingAndGlyphs" fill="#1a1a1a" stroke="#1a1a1a" stroke-width="0.22">Response (nm)</text>
<text x="322.41" y="52.50" font-size="12.0" textLength="36.78" lengthAdjust="spacingAndGlyphs" fill="#1a1a1a" stroke="#1a1a1a" stroke-width="0.22">0 (µM)</text>
<line x1="293" y1="49.3" x2="299.3" y2="49.3" stroke="#3b6cc7" stroke-width="1.25"/>
<text x="315.36" y="69.30" font-size="12.0" textLength="44.34" lengthAdjust="spacingAndGlyphs" fill="#1a1a1a" stroke="#1a1a1a" stroke-width="0.22">25 (µM)</text>
<line x1="293" y1="65.8" x2="299.3" y2="65.8" stroke="#f03434" stroke-width="1.25"/>
<text x="316.10" y="86.10" font-size="12.0" textLength="43.58" lengthAdjust="spacingAndGlyphs" fill="#1a1a1a" stroke="#1a1a1a" stroke-width="0.22">50 (µM)</text>
<line x1="293" y1="82.7" x2="299.3" y2="82.7" stroke="#80cad8" stroke-width="1.25"/>
<text x="309.91" y="106.10" font-size="12.0" textLength="49.76" lengthAdjust="spacingAndGlyphs" fill="#1a1a1a" stroke="#1a1a1a" stroke-width="0.22">100 (µM)</text>
<line x1="293" y1="99.4" x2="299.3" y2="99.4" stroke="#8cd052" stroke-width="1.25"/>
<text x="310.28" y="124.40" font-size="12.0" textLength="49.89" lengthAdjust="spacingAndGlyphs" fill="#1a1a1a" stroke="#1a1a1a" stroke-width="0.22">200 (µM)</text>
<line x1="293" y1="115.8" x2="299.3" y2="115.8" stroke="#f8d8a8" stroke-width="1.25"/>
<defs><clipPath id="rc"><rect x="454.4" y="29.7" width="321.70" height="205.54"/></clipPath></defs>
<line x1="454.4" y1="42.75" x2="776.1" y2="42.75" stroke="#d4d4d4" stroke-width="1.2"/>
<line x1="454.4" y1="127.63" x2="776.1" y2="127.63" stroke="#d4d4d4" stroke-width="1.2"/>
<line x1="454.4" y1="212.51" x2="776.1" y2="212.51" stroke="#d4d4d4" stroke-width="1.2"/>
<line x1="500.40" y1="30.3" x2="500.40" y2="235.25" stroke="#d4d4d4" stroke-width="1.2"/>
<line x1="592.32" y1="30.3" x2="592.32" y2="235.25" stroke="#d4d4d4" stroke-width="1.2"/>
<line x1="684.25" y1="30.3" x2="684.25" y2="235.25" stroke="#d4d4d4" stroke-width="1.2"/>
<rect x="454.4" y="30.3" width="321.70" height="204.95" fill="none" stroke="#cbcbcb" stroke-width="1.3"/>
<line x1="454.79" y1="233.73" x2="460.60" y2="233.73" stroke="#2a2a2a" stroke-width="1.4"/>
<line x1="454.79" y1="212.51" x2="463.10" y2="212.51" stroke="#2a2a2a" stroke-width="1.4"/>
<line x1="454.79" y1="191.29" x2="460.60" y2="191.29" stroke="#2a2a2a" stroke-width="1.4"/>
<line x1="454.79" y1="170.07" x2="460.60" y2="170.07" stroke="#2a2a2a" stroke-width="1.4"/>
<line x1="454.79" y1="148.85" x2="460.60" y2="148.85" stroke="#2a2a2a" stroke-width="1.4"/>
<line x1="454.79" y1="127.63" x2="463.10" y2="127.63" stroke="#2a2a2a" stroke-width="1.4"/>
<line x1="454.79" y1="106.41" x2="460.60" y2="106.41" stroke="#2a2a2a" stroke-width="1.4"/>
<line x1="454.79" y1="85.19" x2="460.60" y2="85.19" stroke="#2a2a2a" stroke-width="1.4"/>
<line x1="454.79" y1="63.97" x2="460.60" y2="63.97" stroke="#2a2a2a" stroke-width="1.4"/>
<line x1="454.79" y1="42.75" x2="463.10" y2="42.75" stroke="#2a2a2a" stroke-width="1.4"/>
<line x1="463.63" y1="235.75" x2="463.63" y2="240.75" stroke="#c8c8c8" stroke-width="1.2"/>
<line x1="482.01" y1="235.75" x2="482.01" y2="240.75" stroke="#c8c8c8" stroke-width="1.2"/>
<line x1="500.40" y1="235.75" x2="500.40" y2="243.05" stroke="#c8c8c8" stroke-width="1.2"/>
<line x1="518.78" y1="235.75" x2="518.78" y2="240.75" stroke="#c8c8c8" stroke-width="1.2"/>
<line x1="537.17" y1="235.75" x2="537.17" y2="240.75" stroke="#c8c8c8" stroke-width="1.2"/>
<line x1="555.55" y1="235.75" x2="555.55" y2="240.75" stroke="#c8c8c8" stroke-width="1.2"/>
<line x1="573.94" y1="235.75" x2="573.94" y2="240.75" stroke="#c8c8c8" stroke-width="1.2"/>
<line x1="592.32" y1="235.75" x2="592.32" y2="243.05" stroke="#c8c8c8" stroke-width="1.2"/>
<line x1="610.71" y1="235.75" x2="610.71" y2="240.75" stroke="#c8c8c8" stroke-width="1.2"/>
<line x1="629.10" y1="235.75" x2="629.10" y2="240.75" stroke="#c8c8c8" stroke-width="1.2"/>
<line x1="647.48" y1="235.75" x2="647.48" y2="240.75" stroke="#c8c8c8" stroke-width="1.2"/>
<line x1="665.87" y1="235.75" x2="665.87" y2="240.75" stroke="#c8c8c8" stroke-width="1.2"/>
<line x1="684.25" y1="235.75" x2="684.25" y2="243.05" stroke="#c8c8c8" stroke-width="1.2"/>
<line x1="702.63" y1="235.75" x2="702.63" y2="240.75" stroke="#c8c8c8" stroke-width="1.2"/>
<line x1="721.02" y1="235.75" x2="721.02" y2="240.75" stroke="#c8c8c8" stroke-width="1.2"/>
<line x1="739.40" y1="235.75" x2="739.40" y2="240.75" stroke="#c8c8c8" stroke-width="1.2"/>
<line x1="757.79" y1="235.75" x2="757.79" y2="240.75" stroke="#c8c8c8" stroke-width="1.2"/>
<line x1="776.17" y1="235.75" x2="776.17" y2="243.05" stroke="#c8c8c8" stroke-width="1.2"/>
<g clip-path="url(#rc)">
<rect x="451.44" y="231.27" width="6" height="5" fill="#3060c0"/>
<rect x="497.00" y="159.50" width="6.4" height="5" fill="#d01a10"/>
<rect x="589.00" y="85.90" width="6.0" height="4.8" fill="#3cb6c8"/>
<rect x="772.60" y="28.30" width="6" height="5" fill="#5cb83a"/>
<path d="M454.44,233.77 L455.78,230.94 L457.12,228.16 L458.46,225.44 L459.80,222.77 L461.14,220.15 L462.48,217.58 L463.82,215.06 L465.16,212.58 L466.50,210.15 L467.84,207.77 L469.18,205.42 L470.52,203.12 L471.86,200.85 L473.21,198.63 L474.55,196.45 L475.89,194.30 L477.23,192.19 L478.57,190.11 L479.91,188.07 L481.25,186.06 L482.59,184.09 L483.93,182.15 L485.27,180.24 L486.61,178.36 L487.95,176.51 L489.29,174.69 L490.63,172.89 L491.97,171.13 L493.31,169.39 L494.65,167.68 L496.00,166.00 L497.34,164.34 L498.68,162.70 L500.02,161.09 L501.36,159.50 L502.70,157.94 L504.04,156.40 L505.38,154.88 L506.72,153.38 L508.06,151.91 L509.40,150.45 L510.74,149.02 L512.08,147.61 L513.42,146.21 L514.76,144.83 L516.10,143.48 L517.44,142.14 L518.78,140.82 L520.13,139.51 L521.47,138.23 L522.81,136.96 L524.15,135.71 L525.49,134.47 L526.83,133.25 L528.17,132.05 L529.51,130.86 L530.85,129.68 L532.19,128.52 L533.53,127.38 L534.87,126.25 L536.21,125.13 L537.55,124.03 L538.89,122.94 L540.23,121.86 L541.57,120.80 L542.92,119.75 L544.26,118.71 L545.60,117.69 L546.94,116.67 L548.28,115.67 L549.62,114.68 L550.96,113.70 L552.30,112.74 L553.64,111.78 L554.98,110.83 L556.32,109.90 L557.66,108.98 L559.00,108.06 L560.34,107.16 L561.68,106.26 L563.02,105.38 L564.36,104.51 L565.71,103.64 L567.05,102.79 L568.39,101.94 L569.73,101.10 L571.07,100.28 L572.41,99.46 L573.75,98.64 L575.09,97.84 L576.43,97.05 L577.77,96.26 L579.11,95.49 L580.45,94.72 L581.79,93.95 L583.13,93.20 L584.47,92.45 L585.81,91.72 L587.15,90.98 L588.49,90.26 L589.84,89.54 L591.18,88.83 L592.52,88.13 L593.86,87.43 L595.20,86.75 L596.54,86.06 L597.88,85.39 L599.22,84.72 L600.56,84.05 L601.90,83.40 L603.24,82.75 L604.58,82.10 L605.92,81.46 L607.26,80.83 L608.60,80.20 L609.94,79.58 L611.28,78.97 L612.63,78.36 L613.97,77.75 L615.31,77.16 L616.65,76.56 L617.99,75.97 L619.33,75.39 L620.67,74.81 L622.01,74.24 L623.35,73.67 L624.69,73.11 L626.03,72.55 L627.37,72.00 L628.71,71.45 L630.05,70.91 L631.39,70.37 L632.73,69.84 L634.07,69.31 L635.41,68.79 L636.76,68.26 L638.10,67.75 L639.44,67.24 L640.78,66.73 L642.12,66.23 L643.46,65.73 L644.80,65.23 L646.14,64.74 L647.48,64.26 L648.82,63.77 L650.16,63.29 L651.50,62.82 L652.84,62.35 L654.18,61.88 L655.52,61.42 L656.86,60.96 L658.20,60.50 L659.55,60.05 L660.89,59.60 L662.23,59.15 L663.57,58.71 L664.91,58.27 L666.25,57.84 L667.59,57.40 L668.93,56.97 L670.27,56.55 L671.61,56.13 L672.95,55.71 L674.29,55.29 L675.63,54.88 L676.97,54.47 L678.31,54.06 L679.65,53.66 L680.99,53.26 L682.33,52.86 L683.68,52.47 L685.02,52.07 L686.36,51.68 L687.70,51.30 L689.04,50.92 L690.38,50.53 L691.72,50.16 L693.06,49.78 L694.40,49.41 L695.74,49.04 L697.08,48.67 L698.42,48.31 L699.76,47.95 L701.10,47.59 L702.44,47.23 L703.78,46.88 L705.12,46.52 L706.47,46.17 L707.81,45.83 L709.15,45.48 L710.49,45.14 L711.83,44.80 L713.17,44.46 L714.51,44.13 L715.85,43.79 L717.19,43.46 L718.53,43.13 L719.87,42.81 L721.21,42.48 L722.55,42.16 L723.89,41.84 L725.23,41.52 L726.57,41.21 L727.91,40.89 L729.25,40.58 L730.60,40.27 L731.94,39.96 L733.28,39.66 L734.62,39.35 L735.96,39.05 L737.30,38.75 L738.64,38.45 L739.98,38.16 L741.32,37.86 L742.66,37.57 L744.00,37.28 L745.34,36.99 L746.68,36.71 L748.02,36.42 L749.36,36.14 L750.70,35.86 L752.04,35.58 L753.39,35.30 L754.73,35.02 L756.07,34.75 L757.41,34.48 L758.75,34.20 L760.09,33.93 L761.43,33.67 L762.77,33.40 L764.11,33.14 L765.45,32.87 L766.79,32.61 L768.13,32.35 L769.47,32.09 L770.81,31.84 L772.15,31.58 L773.49,31.33 L774.83,31.07 L776.17,30.82" fill="none" stroke="#f6423a" stroke-width="1.15"/>
</g>
<text x="430.08" y="46.00" font-size="12.1" textLength="14.07" lengthAdjust="spacingAndGlyphs" fill="#1a1a1a" stroke="#1a1a1a" stroke-width="0.22">16</text>
<text x="430.47" y="129.70" font-size="11.9" textLength="14.17" lengthAdjust="spacingAndGlyphs" fill="#1a1a1a" stroke="#1a1a1a" stroke-width="0.22">12</text>
<text x="435.61" y="215.60" font-size="11.6" textLength="6.28" lengthAdjust="spacingAndGlyphs" fill="#1a1a1a" stroke="#1a1a1a" stroke-width="0.22">8</text>
<text x="493.69" y="256.20" font-size="12.4" textLength="14.21" lengthAdjust="spacingAndGlyphs" fill="#1a1a1a" stroke="#1a1a1a" stroke-width="0.22">50</text>
<text x="584.78" y="256.40" font-size="12.0" textLength="21.11" lengthAdjust="spacingAndGlyphs" fill="#1a1a1a" stroke="#1a1a1a" stroke-width="0.22">100</text>
<text x="673.41" y="259.00" font-size="12.6" textLength="20.57" lengthAdjust="spacingAndGlyphs" fill="#1a1a1a" stroke="#1a1a1a" stroke-width="0.22">150</text>
<text x="546.43" y="275.20" font-size="14.6" textLength="94.46" lengthAdjust="spacingAndGlyphs" fill="#1a1a1a" stroke="#1a1a1a" stroke-width="0.22">Concentration</text>
<text x="642.82" y="275.20" font-size="11.4" textLength="26.06" lengthAdjust="spacingAndGlyphs" fill="#1a1a1a" stroke="#1a1a1a" stroke-width="0.22">(µM)</text>
<text transform="translate(411.60,139.54) rotate(-90)" font-size="13.7" textLength="27.70" lengthAdjust="spacingAndGlyphs" fill="#1a1a1a" stroke="#1a1a1a" stroke-width="0.22">Req</text>
<text x="525.42" y="11.10" font-size="13.3" textLength="145.02" lengthAdjust="spacingAndGlyphs" fill="#1a1a1a" stroke="#1a1a1a" stroke-width="0.22">Steady State Analysis</text>
</svg>
</body></html>
